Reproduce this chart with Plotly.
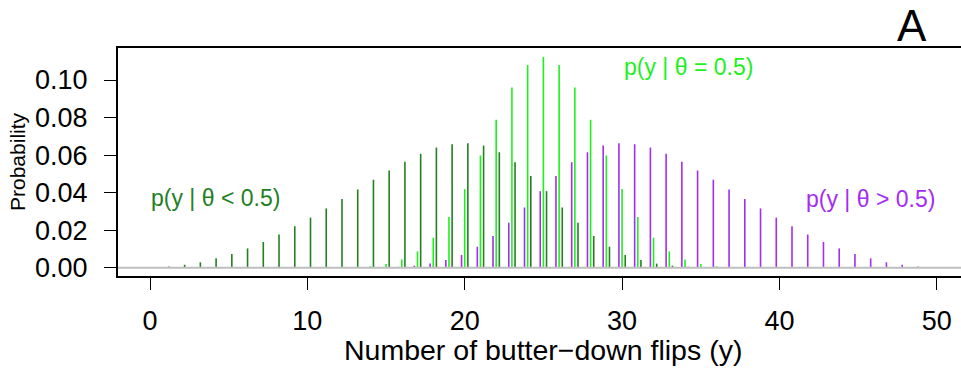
import plotly.graph_objects as go

# ---- data ----
y_values = list(range(0, 51))

p_theta_lt = [0.0003, 0.0007, 0.0016, 0.0029, 0.0050, 0.0073, 0.0103, 0.0137, 0.0177, 0.0221,
              0.0267, 0.0316, 0.0366, 0.0417, 0.0469, 0.0518, 0.0565, 0.0607, 0.0640, 0.0658,
              0.0663, 0.0651, 0.0615, 0.0562, 0.0489, 0.0408, 0.0321, 0.0240, 0.0169, 0.0112,
              0.0068, 0.0041, 0.0022, 0.0011, 0.0005, 0.0002, 0.0001, 0.0000, 0.0000, 0.0000,
              0.0000, 0.0000, 0.0000, 0.0000, 0.0000, 0.0000, 0.0000, 0.0000, 0.0000, 0.0000,
              0.0000]

p_theta_eq = [0.0000, 0.0000, 0.0000, 0.0000, 0.0000, 0.0000, 0.0000, 0.0000, 0.0000, 0.0000,
              0.0000, 0.0000, 0.0001, 0.0003, 0.0008, 0.0020, 0.0044, 0.0087, 0.0160, 0.0270,
              0.0419, 0.0598, 0.0788, 0.0960, 0.1080, 0.1123, 0.1080, 0.0960, 0.0788, 0.0598,
              0.0419, 0.0270, 0.0160, 0.0087, 0.0044, 0.0020, 0.0008, 0.0003, 0.0001, 0.0000,
              0.0000, 0.0000, 0.0000, 0.0000, 0.0000, 0.0000, 0.0000, 0.0000, 0.0000, 0.0000,
              0.0000]

p_theta_gt = [0.0000, 0.0000, 0.0000, 0.0000, 0.0000, 0.0000, 0.0000, 0.0000, 0.0000, 0.0000,
              0.0000, 0.0000, 0.0000, 0.0000, 0.0001, 0.0002, 0.0005, 0.0011, 0.0022,
              0.0041, 0.0068, 0.0112, 0.0169, 0.0240, 0.0321, 0.0408, 0.0489, 0.0562, 0.0615,
              0.0651, 0.0663, 0.0658, 0.0640, 0.0607, 0.0565, 0.0518, 0.0469, 0.0417, 0.0366,
              0.0316, 0.0267, 0.0221, 0.0177, 0.0137, 0.0103, 0.0073, 0.0050, 0.0029, 0.0016,
              0.0007, 0.0003]

x_ticks = [0, 10, 20, 30, 40, 50]
y_ticks = [0.00, 0.02, 0.04, 0.06, 0.08, 0.10]

labels = ["p(y | θ < 0.5)", "p(y | θ = 0.5)", "p(y | θ > 0.5)"]
x_title = "Number of butter\u2212down flips (y)"
y_title = "Probability"
panel = "A"

# ---- styling ----
C_LT = "#22801F"
C_EQ = "#1EF01E"
C_GT = "#A52CF0"
FONT = "Liberation Sans, Arial, sans-serif"

W, H = 961, 374
ML, MR, MT, MB = 118, 0, 48, 98
PW, PH = W - ML - MR, H - MT - MB


def px_x(p):
    return (p - ML) / PW


def px_y(p):
    return (H - MB - p) / PH


def stems(xs, ys, offset):
    sx, sy = [], []
    for xv, yv in zip(xs, ys):
        sx += [xv + offset, xv + offset, None]
        sy += [0, yv, None]
    return sx, sy


fig = go.Figure()
for vals, col, off in [(p_theta_gt, C_GT, -0.2), (p_theta_eq, C_EQ, 0.0), (p_theta_lt, C_LT, 0.2)]:
    sx, sy = stems(y_values, vals, off)
    fig.add_trace(go.Scatter(x=sx, y=sy, mode="lines", line=dict(color=col, width=1.6),
                             hoverinfo="skip", showlegend=False))

fig.add_shape(type="line", xref="paper", yref="y", x0=0, x1=1, y0=0, y1=0,
              line=dict(color="#BEBEBE", width=2.2), layer="above")

annots = [
    dict(text=labels[0], x=px_x(215), y=px_y(198), color=C_LT, size=23),
    dict(text=labels[1], x=px_x(688), y=px_y(67), color=C_EQ, size=23),
    dict(text=labels[2], x=px_x(870), y=px_y(199), color=C_GT, size=23),
    dict(text=panel, x=px_x(912), y=px_y(26), color="black", size=44),
]
for a in annots:
    fig.add_annotation(text=a["text"], xref="paper", yref="paper", x=a["x"], y=a["y"],
                       xanchor="center", yanchor="middle", showarrow=False,
                       font=dict(family=FONT, size=a["size"], color=a["color"]))

fig.add_annotation(text=x_title, xref="paper", yref="paper", x=px_x(542.5), y=px_y(350),
                   xanchor="center", yanchor="middle", showarrow=False,
                   font=dict(family=FONT, size=28.5, color="black"))
fig.add_annotation(text=y_title, xref="paper", yref="paper", x=px_x(17), y=px_y(162),
                   xanchor="center", yanchor="middle", showarrow=False, textangle=-90,
                   font=dict(family=FONT, size=21, color="black"))

fig.update_layout(
    width=W, height=H,
    margin=dict(l=ML, r=MR, t=MT, b=MB, pad=0),
    paper_bgcolor="white", plot_bgcolor="white",
    font=dict(family=FONT, color="black"),
    showlegend=False,
)
fig.update_xaxes(range=[-2.034, 51.54], tickvals=x_ticks, ticks="outside", ticklen=12,
                 tickwidth=1.3, tickcolor="black", showline=True, linecolor="black",
                 linewidth=2, mirror=True, showgrid=False, zeroline=False,
                 tickfont=dict(family=FONT, size=27, color="black"), ticklabelstandoff=8)
fig.update_yaxes(range=[-0.0044, 0.11705], tickvals=y_ticks, tickformat=".2f",
                 ticks="outside", ticklen=12, tickwidth=1.3, tickcolor="black",
                 showline=True, linecolor="black", linewidth=2, mirror=False,
                 showgrid=False, zeroline=False,
                 tickfont=dict(family=FONT, size=27, color="black"), ticklabelstandoff=11)

fig.write_html("out.html")
